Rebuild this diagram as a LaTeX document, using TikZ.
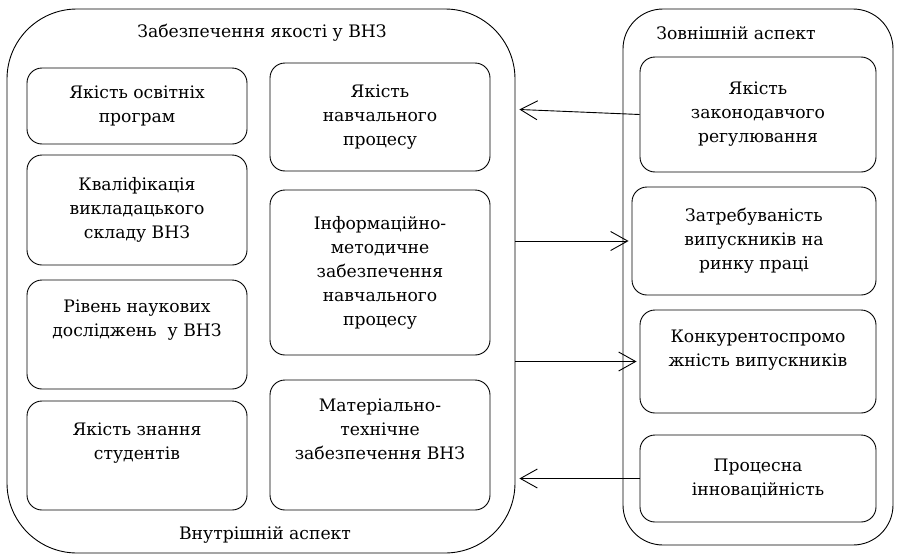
\documentclass[tikz,border=0pt]{standalone}
\usepackage{fontspec}
\setmainfont{DejaVu Serif}
\usetikzlibrary{arrows.meta,calc,positioning}

\begin{document}
\begin{tikzpicture}[x=1pt,y=-1pt,
    font=\rmfamily\fontsize{17.2}{24}\selectfont,
    every node/.style={align=center},
    box/.style={draw,rounded corners=15pt,line width=0.9pt,minimum width=220pt},
    side/.style={draw,rounded corners=15pt,line width=0.9pt,minimum width=236pt},
    link/.style={line width=0.9pt,-{Straight Barb[length=17pt,width=19pt]}}]

    \useasboundingbox (0,0) rectangle (897,557);

    \node [draw,rounded corners=70pt,line width=0.9pt,minimum width=508pt,minimum height=544pt] (inner) at (261,281) {};
    \node [draw,rounded corners=40pt,line width=0.9pt,minimum width=270pt,minimum height=536pt] (outer) at (758,277) {};

    \node (title) at (262,33) {Забезпечення якості у ВНЗ};
    \node (inlabel) at (265,535) {Внутрішній аспект};
    \node (exlabel) at (736,33) {Зовнішній аспект};

    \node [box,minimum height=76pt] (programs) at (137,106) {Якість освітніх\\програм};
    \node [box,minimum height=110pt] (staff) at (137,210) {Кваліфікація\\викладацького\\складу ВНЗ};
    \node [box,minimum height=109pt,text depth=33pt] (research) at (137,334.5) {Рівень наукових\\досліджень\ \ у ВНЗ};
    \node [box,minimum height=109pt,text depth=29pt] (knowledge) at (137,455.5) {Якість знання\\студентів};

    \node [box,minimum height=108pt] (process) at (380,117) {Якість\\навчального\\процесу};
    \node [box,minimum height=165pt] (method) at (380,272.5) {Інформаційно-\\методичне\\забезпечення\\навчального\\процесу};
    \node [box,minimum height=130pt,text depth=31pt] (material) at (380,445) {Матеріально-\\технічне\\забезпечення ВНЗ};

    \node [side,minimum height=115pt] (law) at (758,114.5) {Якість\\законодавчого\\регулювання};
    \node [side,minimum width=244pt,minimum height=108pt] (demand) at (754,241) {Затребуваність\\випускників на\\ринку праці};
    \node [side,minimum height=103pt,text depth=27pt] (compete) at (758,361.5) {Конкурентоспромо\\жність випускників};
    \node [side,minimum height=87pt] (innov) at (758,478.5) {Процесна\\інноваційність};

    \draw [link] (law.west) -- ($(inner.east |- law.west)+(4,-5)$);
    \draw [link,shorten >=3pt] (inner.east |- demand.west) -- (demand.west);
    \draw [link,shorten >=3pt] (inner.east |- compete.west) -- (compete.west);
    \draw [link] (innov.west) -- ($(inner.east |- innov.west)+(4,0)$);
\end{tikzpicture}
\end{document}
